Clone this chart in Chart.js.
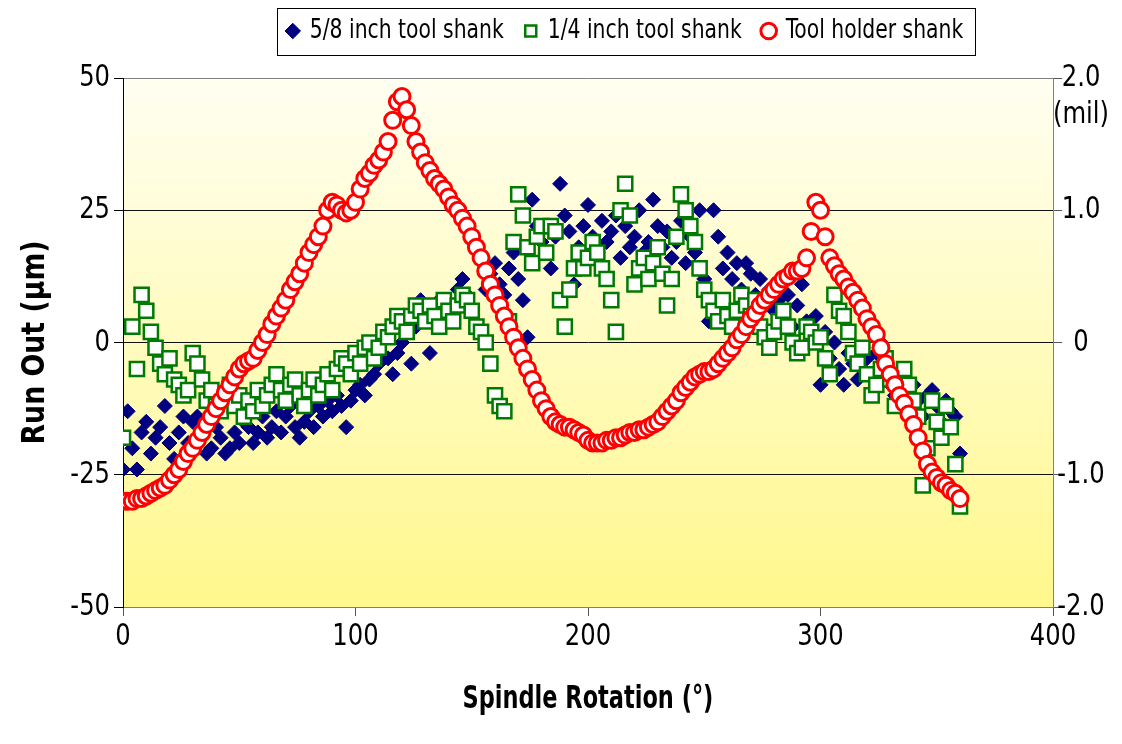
<!DOCTYPE html>
<html><head><meta charset="utf-8">
<script src="https://cdn.jsdelivr.net/npm/chart.js@4.4.1/dist/chart.umd.min.js"></script>
<style>html,body{margin:0;padding:0;background:#fff;overflow:hidden}canvas{display:block}</style>
</head><body>
<canvas id="c" width="1122" height="744"></canvas>
<script>
// Spindle rotation angles (degrees)
const angles = [
  0,2,4,6,8,10,12,14,16,18,
  20,22,24,26,28,30,32,34,36,38,
  40,42,44,46,48,50,52,54,56,58,
  60,62,64,66,68,70,72,74,76,78,
  80,82,84,86,88,90,92,94,96,98,
  100,102,104,106,108,110,112,114,116,118,
  120,122,124,126,128,130,132,134,136,138,
  140,142,144,146,148,150,152,154,156,158,
  160,162,164,166,168,170,172,174,176,178,
  180,182,184,186,188,190,192,194,196,198,
  200,202,204,206,208,210,212,214,216,218,
  220,222,224,226,228,230,232,234,236,238,
  240,242,244,246,248,250,252,254,256,258,
  260,262,264,266,268,270,272,274,276,278,
  280,282,284,286,288,290,292,294,296,298,
  300,302,304,306,308,310,312,314,316,318,
  320,322,324,326,328,330,332,334,336,338,
  340,342,344,346,348,350,352,354,356,358,
  360
];
// 5/8 inch tool shank run out (µm)
const shank58 = [
  -24,-13,-20,-24,-17,-15,-21,-18,-16,-12,
  -19,-22,-17,-14,-19,-15,-14,-18,-21,-20,
  -16,-18,-21,-20,-17,-19,-15,-16,-19,-17,
  -14,-18,-16,-13,-17,-14,-12,-16,-18,-15,
  -13,-16,-12,-14,-11,-13,-10,-12,-16,-11,
  -9,-8,-10,-7,-6,-4,2,-3,-6,-2,
  0,2,-4,3,8,4,-2,5,8,6,
  4,7,10,12,9,6,3,2,10,13,
  15,11,9,14,17,12,8,1,27,22,
  19,17,14,20,30,24,21,11,18,22,
  26,20,17,23,19,21,24,16,22,18,
  20,25,17,19,27,22,18,21,16,19,
  23,15,20,17,25,12,4,25,20,14,
  17,12,15,10,15,13,9,12,7,10,
  6,8,5,9,3,7,11,4,1,5,
  -8,2,-3,0,-5,-8,-2,-4,-7,-1,
  -3,-6,-2,0,-5,-8,-10,-6,-9,-12,
  -8,-11,-14,-10,-9,-12,-15,-11,-13,-14,
  -21
];
// 1/4 inch tool shank run out (µm)
const shank14 = [
  -18,-30,3,-5,9,6,2,-1,-4,-6,
  -3,-7,-8,-10,-9,-2,-4,-7,-11,-9,
  -12,-13,-10,-8,-12,-10,-14,-11,-13,-9,
  -12,-10,-8,-6,-9,-11,-8,-7,-10,-12,
  -9,-7,-10,-8,-6,-9,-5,-3,-4,-6,
  -2,-4,-1,0,-3,-1,2,1,3,5,
  4,2,5,7,6,4,7,5,3,8,
  6,4,7,9,8,6,3,2,0,-4,
  -10,-12,-13,4,19,28,24,18,15,20,
  22,17,22,21,8,3,10,14,17,14,
  16,19,17,14,12,8,2,25,30,24,
  11,14,16,12,15,18,13,7,12,20,
  28,25,22,19,14,10,8,6,4,8,
  5,3,6,9,7,5,8,3,1,-1,
  2,4,6,3,0,-2,-1,3,2,0,
  1,-3,-6,9,6,5,2,-2,-4,-1,
  -6,-10,-8,-5,-3,-7,-12,-9,-5,-8,
  -11,-14,-27,-20,-11,-15,-18,-12,-16,-23,
  -31
];
// Tool holder shank run out (µm)
const holder = [
  -30,-30,-30,-29.5,-29.5,-29,-28.5,-28,-27.5,-27,
  -26,-25,-24,-22.5,-21,-20,-18.5,-17,-15.5,-14,
  -12.5,-11,-9.5,-8,-6.5,-5,-4,-3.5,-3,-1.5,
  0,1.5,3.5,5,6.5,8,10,11.5,13,15,
  17,18.5,20,22,25,26.5,26,25,24.5,25,
  26.5,29,31,32,33.5,34.5,36,38,42,45.5,
  46.5,44,41,38,36,34,32.5,31,30,29,
  27.5,26,25,23.5,22,20,18,16,13.5,11,
  9,7,5,3,1,-1,-3,-5,-7,-9,
  -11,-12.5,-14,-15,-15.5,-16,-16,-16.5,-17,-17.5,
  -18.5,-19,-19,-19,-18.5,-18.5,-18,-18,-17.5,-17,
  -17,-16.5,-16.5,-16,-15.5,-15,-14,-13,-12,-11,
  -9.5,-8.5,-7.5,-6.5,-6,-5.5,-5.5,-5,-4,-3,
  -2,-1,0.5,1.5,3,4.5,5.5,7,8,9,
  10,11,12,12.5,13.5,13.5,14,16,21,26.5,
  25,20,16,14.5,13,12,10.5,9.5,8,6.5,
  4.5,3,1.5,-1,-4,-6,-8,-10,-11.5,-13.5,
  -15.5,-18,-20.5,-23,-24.5,-25.5,-26.5,-27,-28,-28.5,
  -29.5
];
const seriesLabels = ['5/8 inch tool shank', '1/4 inch tool shank', 'Tool holder shank'];
const xTickValues = [0, 100, 200, 300, 400];
const yTickValues = [-50, -25, 0, 25, 50];
const y2TickValues = [-2, -1, 0, 1, 1.72, 2];
const y2TickLabels = ['-2.0', '-1.0', '0', '1.0', '(mil)', '2.0'];
const xTitle = 'Spindle Rotation (°)';
const yTitle = 'Run Out (µm)';

const FONT = "'Liberation Sans Narrow', 'Arial Narrow', 'DejaVu Sans Condensed', 'Liberation Sans', sans-serif";
const legendShift = 65;
const legendTopShift = -5;
const legendBandHeight = 78;

// Narrow-font look: condense glyphs horizontally (text stays real canvas text)
const SQ_NORMAL = 0.87, SQ_BOLD = 0.78, SQ_ROT = 0.93;
const canvas = document.getElementById('c');
const ctx2d = canvas.getContext('2d');
(function condense(ctx) {
  const mt = ctx.measureText.bind(ctx);
  const ft = ctx.fillText.bind(ctx);
  const sq = () => {
    const m = ctx.getTransform();
    if (Math.abs(m.b) > 0.01) return SQ_ROT;
    return /bold/.test(ctx.font) ? SQ_BOLD : SQ_NORMAL;
  };
  ctx.measureText = function (t) {
    const m = mt(t), s = sq();
    return {
      width: m.width * s,
      actualBoundingBoxLeft: m.actualBoundingBoxLeft * s,
      actualBoundingBoxRight: m.actualBoundingBoxRight * s,
      actualBoundingBoxAscent: m.actualBoundingBoxAscent,
      actualBoundingBoxDescent: m.actualBoundingBoxDescent,
      fontBoundingBoxAscent: m.fontBoundingBoxAscent,
      fontBoundingBoxDescent: m.fontBoundingBoxDescent
    };
  };
  ctx.fillText = function (t, x, y, mw) {
    const w = mt(t).width * sq();
    return ft(t, x, y, (mw === undefined || mw === null) ? w : Math.min(mw, w));
  };
})(ctx2d);

const pts = arr => angles.map((a, i) => ({x: a, y: arr[i]}));

const helper = {
  id: 'helper',
  beforeLayout(chart) {
    const lg = chart.legend;
    if (lg && !lg._fitWrapped) {
      const orig = lg.fit.bind(lg);
      lg.fit = function () { orig(); this.height = legendBandHeight; };
      lg._fitWrapped = true;
    }
  },
  afterLayout(chart) {
    const lg = chart.legend;
    lg.left = legendShift;
    lg.right = chart.width + legendShift;
    lg.top = legendTopShift;
  },
  beforeDraw(chart) {
    const {ctx, chartArea: a} = chart;
    ctx.save();
    ctx.fillStyle = '#ffffff';
    ctx.fillRect(0, 0, chart.width, chart.height);
    const g = ctx.createLinearGradient(0, a.top, 0, a.bottom);
    g.addColorStop(0, '#fffff2');
    g.addColorStop(1, '#fff88c');
    ctx.fillStyle = g;
    ctx.fillRect(a.left, a.top, a.right - a.left, a.bottom - a.top);
    ctx.restore();
  },
  afterDraw(chart) {
    const hb = chart.legend.legendHitBoxes;
    if (!hb || !hb.length) return;
    const ctx = chart.ctx;
    let l = Infinity, r = -Infinity, t = Infinity, b = -Infinity;
    hb.forEach(h => { l = Math.min(l, h.left); r = Math.max(r, h.left + h.width); t = Math.min(t, h.top); b = Math.max(b, h.top + h.height); });
    ctx.save();
    ctx.strokeStyle = '#000';
    ctx.lineWidth = 1;
    ctx.strokeRect(Math.round(l - 12) + 0.5, Math.round(t - 10) + 0.5, Math.round(r - l + 24), Math.round(b - t + 21));
    ctx.restore();
  }
};

new Chart(canvas, {
  type: 'scatter',
  data: {
    datasets: [
      { label: seriesLabels[0], data: pts(shank58), pointStyle: 'rectRot', pointRadius: 7.5, borderWidth: 1,
        backgroundColor: '#000080', borderColor: '#000080', order: 3 },
      { label: seriesLabels[1], data: pts(shank14), pointStyle: 'rect', pointRadius: 10, borderWidth: 2.5,
        backgroundColor: '#ffffff', borderColor: '#007a00', order: 2 },
      { label: seriesLabels[2], data: pts(holder), pointStyle: 'circle', pointRadius: 8, borderWidth: 3,
        backgroundColor: '#ffffff', borderColor: '#ff0000', order: 1 }
    ]
  },
  options: {
    responsive: false,
    animation: false,
    events: [],
    layout: { padding: 0 },
    plugins: {
      tooltip: { enabled: false },
      legend: {
        position: 'top',
        labels: {
          usePointStyle: true, boxWidth: 8, boxHeight: 11, padding: 23, color: '#000',
          font: { family: FONT, size: 26 },
          sort: (a, b) => a.datasetIndex - b.datasetIndex
        }
      }
    },
    scales: {
      x: {
        type: 'linear', min: 0, max: 400,
        afterBuildTicks: s => { s.ticks = xTickValues.map(v => ({value: v})); },
        afterFit: s => { s.height = 137; },
        ticks: { color: '#000', font: { family: FONT, size: 31 }, padding: 2, maxRotation: 0, autoSkip: false },
        grid: { drawOnChartArea: false, drawTicks: true, tickLength: 9, tickColor: '#555' },
        border: { display: true, color: '#808080', width: 1 },
        title: { display: true, text: xTitle, color: '#000', font: { family: FONT, size: 32, weight: 'bold' }, padding: { top: 0, bottom: 25 } }
      },
      y: {
        type: 'linear', position: 'left', min: -50, max: 50,
        afterBuildTicks: s => { s.ticks = yTickValues.map(v => ({value: v})); },
        afterFit: s => { s.width = 123; },
        ticks: { color: '#000', font: { family: FONT, size: 31 }, padding: 4, autoSkip: false },
        grid: {
          drawOnChartArea: true, drawTicks: true, tickLength: 9, tickColor: '#000', lineWidth: 1,
          color: c => (c.tick && Math.abs(c.tick.value) === 50) ? '#808080' : '#111'
        },
        border: { display: true, color: '#000', width: 1 },
        title: { display: true, text: yTitle, color: '#000', font: { family: FONT, size: 32, weight: 'bold' }, padding: { top: 16, bottom: 0 } }
      },
      y2: {
        type: 'linear', position: 'right', min: -2, max: 2,
        afterBuildTicks: s => { s.ticks = y2TickValues.map(v => ({value: v})); },
        afterFit: s => { s.width = 69; },
        ticks: { color: '#000', font: { family: FONT, size: 31 }, padding: -9, autoSkip: false, crossAlign: 'center',
          callback: (v, i) => y2TickLabels[i] },
        grid: { drawOnChartArea: false, drawTicks: true, tickLength: 9,
          tickColor: c => (c.tick && c.tick.value === 1.72) ? 'rgba(0,0,0,0)' : '#555' },
        border: { display: true, color: '#808080', width: 1 }
      }
    }
  },
  plugins: [helper]
});
</script>
</body></html>
